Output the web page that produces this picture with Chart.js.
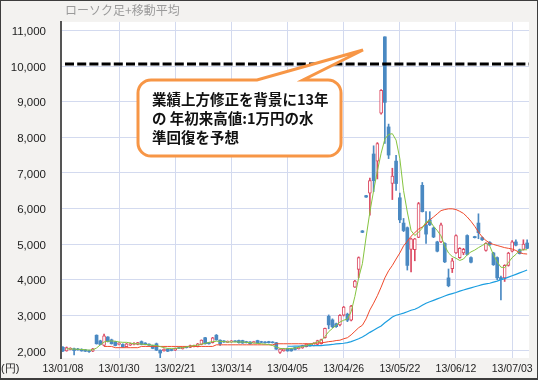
<!DOCTYPE html>
<html>
<head>
<meta charset="utf-8">
<script src="https://cdn.jsdelivr.net/npm/chart.js@4"></script>
<style>
html,body{margin:0;padding:0;background:#fff;}
#wrap{width:538px;height:380px;}
</style>
</head>
<body>
<div id="wrap"><canvas id="c" width="538" height="380"></canvas></div>
<script>
// ---- data ----
const dates = [
'13/01/08','13/01/09','13/01/10','13/01/11','13/01/15','13/01/16','13/01/17','13/01/18','13/01/21','13/01/22',
'13/01/23','13/01/24','13/01/25','13/01/28','13/01/29','13/01/30','13/01/31','13/02/01','13/02/04','13/02/05',
'13/02/06','13/02/07','13/02/08','13/02/12','13/02/13','13/02/14','13/02/15','13/02/18','13/02/19','13/02/20',
'13/02/21','13/02/22','13/02/25','13/02/26','13/02/27','13/02/28','13/03/01','13/03/04','13/03/05','13/03/06',
'13/03/07','13/03/08','13/03/11','13/03/12','13/03/13','13/03/14','13/03/15','13/03/18','13/03/19','13/03/21',
'13/03/22','13/03/25','13/03/26','13/03/27','13/03/28','13/03/29','13/04/01','13/04/02','13/04/03','13/04/04',
'13/04/05','13/04/08','13/04/09','13/04/10','13/04/11','13/04/12','13/04/15','13/04/16','13/04/17','13/04/18',
'13/04/19','13/04/22','13/04/23','13/04/24','13/04/25','13/04/26','13/04/30','13/05/01','13/05/02','13/05/07',
'13/05/08','13/05/09','13/05/10','13/05/13','13/05/14','13/05/15','13/05/16','13/05/17','13/05/20','13/05/21',
'13/05/22','13/05/23','13/05/24','13/05/27','13/05/28','13/05/29','13/05/30','13/05/31','13/06/03','13/06/04',
'13/06/05','13/06/06','13/06/07','13/06/10','13/06/11','13/06/12','13/06/13','13/06/14','13/06/17','13/06/18',
'13/06/19','13/06/20','13/06/21','13/06/24','13/06/25','13/06/26','13/06/27','13/06/28','13/07/01','13/07/02',
'13/07/03','13/07/04','13/07/05','13/07/08','13/07/09'];

const tickLabels = ['13/01/08','13/01/30','13/02/21','13/03/14','13/04/05','13/04/26','13/05/22','13/06/12','13/07/03'];
const yTicks = [2000,3000,4000,5000,6000,7000,8000,9000,10000,11000];

const openP = [
2100,2000,2040,2060,2050,2040,2030,2000,1990,2440,
2280,2150,2390,2310,2250,2180,2180,2120,2160,2180,
2180,2260,2220,2190,2150,2200,2020,2000,2050,2040,
2020,2090,2060,2110,2100,2120,2120,2180,2370,2230,
2230,2440,2300,2280,2240,2250,2280,2290,2290,2260,
2250,2230,2290,2260,2250,2260,2250,2230,1960,2000,
2070,2060,2090,2060,2080,2120,2180,2150,2180,2200,
2370,2970,2870,2760,2730,3000,3030,2860,3790,4290,
5370,6360,6430,7530,7330,8680,10820,8290,6700,7330,
6300,5590,5460,4850,4840,5190,6650,5540,5680,5450,
5060,5060,5020,4050,4310,4750,4620,4750,5240,4620,
5210,5590,5180,4820,5050,4750,4620,4060,4050,4400,
4800,5060,4840,4850,5030];

const highP = [
2120,2110,2090,2080,2070,2060,2040,2020,2070,2450,
2300,2470,2400,2330,2270,2230,2200,2210,2220,2230,
2240,2280,2230,2200,2160,2220,2030,2060,2060,2050,
2080,2100,2110,2120,2160,2160,2210,2310,2380,2240,
2380,2460,2310,2290,2280,2290,2290,2300,2300,2270,
2260,2270,2300,2270,2260,2270,2260,2240,2060,2070,
2080,2070,2100,2120,2160,2200,2190,2230,2300,2330,
2640,3010,2900,2780,3020,3250,3060,3280,3980,4640,
5380,6370,6850,7760,7850,9340,10820,8370,7130,7490,
6430,5720,5480,5170,5160,6170,6730,5910,5910,5480,
5080,5590,5040,4300,4600,5260,4900,4880,5260,4640,
5220,5850,5200,5040,5070,4770,4640,4100,4420,4770,
5100,5120,4860,5120,5120];

const lowP = [
1980,1990,2030,1890,2020,1990,1980,1960,1980,2190,
2170,2140,2250,2190,2140,2170,2100,2110,2150,2170,
2170,2170,2170,2150,2060,2010,1800,1990,1980,2000,
2010,2060,2050,2080,2090,2110,2110,2170,2190,2190,
2220,2300,2150,2240,2230,2240,2250,2220,2210,2220,
2190,2220,2210,2230,2220,2220,2220,2040,1930,1990,
1990,1990,2030,2050,2070,2110,2130,2140,2170,2190,
2360,2620,2650,2660,2700,2980,2820,2840,3780,4050,
5320,6310,5810,6470,6830,8650,7830,7400,6250,6510,
5600,5350,4270,4220,4530,5180,5900,5020,5520,5180,
4780,5040,4480,3800,4200,4740,4600,4700,4690,4470,
5170,5150,5100,4800,4960,4400,4000,3430,3950,4380,
4780,4950,4720,4830,4870];

const closeP = [
2000,2090,2070,2010,2030,2000,1990,1980,2060,2200,
2180,2420,2260,2200,2150,2210,2110,2200,2200,2210,
2230,2180,2180,2160,2070,2020,1940,2050,1990,2010,
2070,2070,2100,2090,2150,2150,2200,2300,2200,2200,
2370,2310,2200,2250,2270,2280,2260,2230,2220,2230,
2200,2260,2220,2240,2230,2230,2230,2050,2050,2060,
2000,2000,2040,2110,2150,2190,2140,2220,2290,2320,
2630,2730,2680,2680,3000,3230,2860,3260,3960,4620,
5330,6320,6780,6780,7820,9320,8980,7500,6910,6700,
5680,5380,4400,5150,5150,6140,5910,5280,5540,5200,
4800,5540,4500,3830,4530,5240,4880,4850,4710,4490,
5180,5320,5120,5020,4980,4420,4050,4000,4400,4750,
5060,4970,4730,5000,4880];

const ma5 = [
null,2060,2055,2050,2045,2040,2030,2020,2030,2080,
2170,2250,2270,2280,2270,2250,2240,2240,2220,2200,
2200,2190,2180,2170,2160,2150,2120,2090,2070,2070,
2070,2080,2090,2110,2130,2150,2160,2190,2210,2240,
2260,2270,2270,2260,2250,2250,2250,2250,2250,2240,
2230,2220,2210,2200,2190,2180,2150,2110,2070,2060,
2060,2070,2080,2100,2120,2150,2180,2210,2250,2290,
2400,2540,2630,2720,2810,2860,2900,3100,3530,4050,
4450,5200,5900,6500,7050,7550,7950,8080,8100,7920,
7400,6500,5900,5380,5240,5330,5450,5620,5660,5500,
5380,5230,4950,4750,4650,4600,4540,4580,4700,4780,
4830,4900,4960,5020,4950,4700,4500,4350,4340,4480,
4620,4710,4820,4840,4840];

const ma25 = [
null,null,null,null,null,null,null,null,null,null,
null,2125,2125,2125,2090,2090,2090,2090,2090,2090,
2090,2125,2125,2125,2125,2125,2125,2125,2125,2125,
2125,2125,2125,2125,2125,2125,2125,2125,2125,2125,
2125,2170,2170,2170,2170,2170,2170,2170,2170,2170,
2170,2170,2170,2170,2170,2170,2170,2200,2200,2200,
2200,2200,2200,2200,2200,2200,2200,2210,2220,2230,
2240,2260,2270,2290,2300,2340,2370,2450,2550,2650,
2720,2900,3150,3340,3550,3790,4050,4250,4400,4580,
4750,4950,5080,5220,5320,5420,5480,5560,5680,5760,
5850,5940,5970,5990,5990,5970,5920,5860,5760,5640,
5500,5340,5200,5100,5030,4990,4960,4930,4900,4880,
4860,4820,4760,4730,4720];

const ma75 = [
null,null,null,null,null,null,null,null,null,null,
null,null,null,null,null,null,null,null,null,null,
null,null,null,null,null,null,null,null,null,null,
null,null,null,null,null,null,null,null,null,null,
null,null,null,null,null,null,null,null,null,null,
null,null,null,null,null,null,null,null,null,null,
2130,2130,2135,2135,2140,2140,2145,2145,2150,2150,
2160,2170,2180,2195,2205,2215,2230,2260,2300,2340,
2390,2450,2520,2580,2640,2700,2790,2870,2950,3000,
3030,3060,3100,3140,3170,3220,3280,3340,3380,3420,
3460,3500,3540,3580,3610,3640,3680,3710,3740,3770,
3800,3830,3860,3880,3900,3930,3960,4000,4030,4070,
4110,4150,4190,4230,4270];

const resistanceLevel = 10060;
const chartTitle = 'ローソク足+移動平均';
const unitLabel = '(円)';
const calloutLines = ['業績上方修正を背景に13年', 'の 年初来高値:1万円の水', '準回復を予想'];

// ---- styles ----
const UP = '#dc4a62', DOWN = '#4a89c2';
const GRID = '#d3daef';

const isUp = i => closeP[i] >= openP[i];
const upBodies = dates.map((d, i) => isUp(i) ? [openP[i], closeP[i]] : null);
const downBodies = dates.map((d, i) => isUp(i) ? null : [openP[i], closeP[i]]);
const wicks = dates.map((d, i) => [lowP[i], highP[i]]);
const wickColors = dates.map((d, i) => isUp(i) ? UP : DOWN);

const decor = {
  id: 'decor',
  beforeDraw(chart) {
    const {ctx, chartArea: a, width, height} = chart;
    ctx.save();
    ctx.fillStyle = '#f3f2f0';
    ctx.fillRect(0, 0, width, height);
    ctx.fillStyle = '#ffffff';
    ctx.fillRect(a.left, a.top, a.right - a.left, a.bottom - a.top);
    ctx.restore();
  },
  afterDatasetsDraw(chart) {
    const {ctx, chartArea: a, scales} = chart;
    ctx.save();
    ctx.font = '12px "Noto Sans CJK JP"';
    ctx.fillStyle = '#9a9a9a';
    ctx.textBaseline = 'middle';
    ctx.fillText(chartTitle, a.left + 4, 10);
    const y = scales.y.getPixelForValue(resistanceLevel);
    ctx.beginPath();
    ctx.setLineDash([9, 3.2]);
    ctx.lineWidth = 3;
    ctx.strokeStyle = '#000';
    ctx.moveTo(a.left + 4, y);
    ctx.lineTo(a.right, y);
    ctx.stroke();
    ctx.setLineDash([]);
    const bx = 138, by = 80, bw = 203, bh = 76, r = 13;
    const tipX = 363, tipY = 50, t1 = 257, t2 = 303;
    ctx.beginPath();
    ctx.moveTo(bx + r, by);
    ctx.lineTo(t1, by);
    ctx.lineTo(tipX, tipY);
    ctx.lineTo(t2, by);
    ctx.lineTo(bx + bw - r, by);
    ctx.arcTo(bx + bw, by, bx + bw, by + r, r);
    ctx.lineTo(bx + bw, by + bh - r);
    ctx.arcTo(bx + bw, by + bh, bx + bw - r, by + bh, r);
    ctx.lineTo(bx + r, by + bh);
    ctx.arcTo(bx, by + bh, bx, by + bh - r, r);
    ctx.lineTo(bx, by + r);
    ctx.arcTo(bx, by, bx + r, by, r);
    ctx.closePath();
    ctx.fillStyle = '#ffffff';
    ctx.fill();
    ctx.lineWidth = 3;
    ctx.lineJoin = 'miter';
    ctx.strokeStyle = '#f79646';
    ctx.stroke();
    ctx.fillStyle = '#111';
    ctx.font = 'bold 14.5px "Noto Sans CJK JP"';
    ctx.textBaseline = 'middle';
    calloutLines.forEach((s, k) => ctx.fillText(s, 152, 99 + k * 19));
    ctx.restore();
  },
  afterDraw(chart) {
    const {ctx, width, height} = chart;
    ctx.save();
    ctx.font = '11px "Liberation Sans", Arial, sans-serif';
    ctx.fillStyle = '#222';
    ctx.textBaseline = 'middle';
    ctx.fillText(unitLabel, 1, 369);
    ctx.strokeStyle = '#3d3d3d';
    ctx.lineWidth = 1;
    ctx.strokeRect(0.5, 0.5, width - 1, height - 1);
    ctx.beginPath();
    ctx.moveTo(0, height - 1.5);
    ctx.lineTo(width, height - 1.5);
    ctx.stroke();
    ctx.restore();
  }
};

new Chart(document.getElementById('c'), {
  data: {
    labels: dates,
    datasets: [
      {type: 'line', data: ma5, borderColor: '#86c440', borderWidth: 1, pointRadius: 0, tension: 0, order: 0},
      {type: 'line', data: ma25, borderColor: '#f04a2c', borderWidth: 1, pointRadius: 0, tension: 0, order: 0},
      {type: 'line', data: ma75, borderColor: '#1c9ee0', borderWidth: 1.2, pointRadius: 0, tension: 0, order: 0},
      {type: 'bar', data: upBodies, backgroundColor: '#ffffff', borderColor: UP, borderWidth: 1,
       borderSkipped: false, barThickness: 3, grouped: false, order: 1},
      {type: 'bar', data: downBodies, backgroundColor: DOWN, borderColor: DOWN, borderWidth: 0,
       borderSkipped: false, barThickness: 3, grouped: false, order: 1},
      {type: 'bar', data: wicks, backgroundColor: wickColors, borderWidth: 0,
       barThickness: 1, grouped: false, order: 2}
    ]
  },
  options: {
    responsive: false,
    animation: false,
    devicePixelRatio: 1,
    layout: {padding: {left: 0, right: 9, top: 2, bottom: 0}},
    plugins: {legend: {display: false}, tooltip: {enabled: false}},
    events: [],
    scales: {
      x: {
        type: 'category',
        offset: true,
        grid: {offset: false, lineWidth: 1, drawTicks: false,
               color: c => (c.index === 0 ? 'rgba(0,0,0,0)' : GRID)},
        border: {display: false},
        ticks: {autoSkip: false, maxRotation: 0, minRotation: 0, padding: 5, color: '#222',
                font: {family: '"Liberation Sans", Arial, sans-serif', size: 10.5}},
        afterBuildTicks: s => { s.ticks = s.ticks.filter(t => tickLabels.includes(dates[t.value])); },
        afterFit: s => { s.height = 22; }
      },
      y: {
        type: 'linear',
        min: 1800,
        max: 11240,
        grid: {color: GRID, lineWidth: 1, drawTicks: false},
        border: {display: true, color: '#555', width: 2, z: 1},
        ticks: {padding: 15, color: '#222', labelOffset: 1.5,
                font: {family: '"Liberation Sans", Arial, sans-serif', size: 11.5},
                callback: v => v.toLocaleString('en-US')},
        afterBuildTicks: s => { s.ticks = yTicks.map(v => ({value: v})); },
        afterFit: s => { s.width = 61; }
      }
    }
  },
  plugins: [decor]
});
</script>
</body>
</html>
